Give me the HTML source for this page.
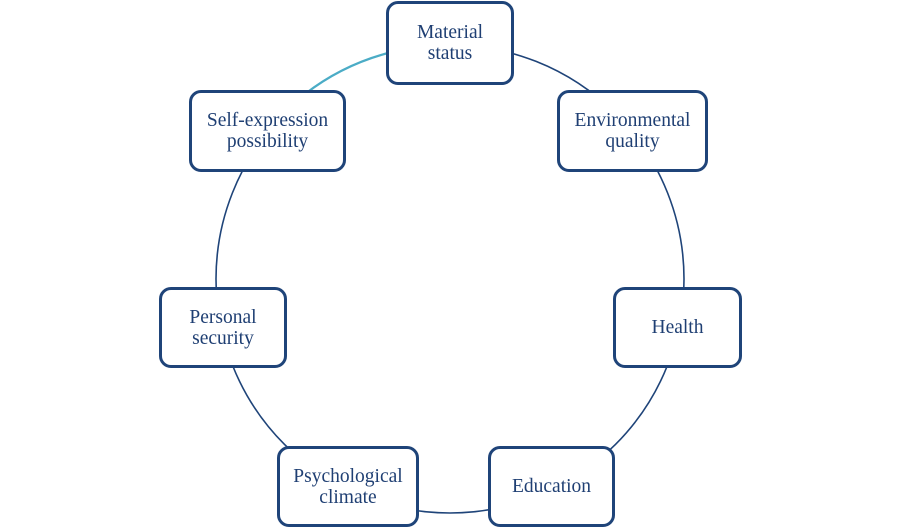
<!DOCTYPE html>
<html><head><meta charset="utf-8"><style>
html,body{margin:0;padding:0;background:#fff;}
.b{position:absolute;box-sizing:border-box;border:3.5px solid #1f4479;border-radius:12px;background:#fff;display:flex;align-items:center;justify-content:center;text-align:center;font-family:"Liberation Serif",serif;font-size:19.5px;line-height:21px;color:#1f3f73;}
</style></head><body>
<div style="position:relative;width:902px;height:529px;overflow:hidden;">
<svg width="902" height="529" style="position:absolute;left:0;top:0">
<circle cx="450" cy="279" r="234" fill="none" stroke="#1f4479" stroke-width="1.6"/>
<path d="M 392 52 A 234 234 0 0 0 305 94" fill="none" stroke="#fff" stroke-width="5"/>
<path d="M 392 52 A 234 234 0 0 0 305 94" fill="none" stroke="#4bacc6" stroke-width="2.2"/>
</svg>
<div class="b" style="left:386px;top:1px;width:128px;height:84px;">Material<br>status</div>
<div class="b" style="left:557px;top:90px;width:151px;height:82px;">Environmental<br>quality</div>
<div class="b" style="left:613px;top:287px;width:129px;height:81px;">Health</div>
<div class="b" style="left:488px;top:446px;width:127px;height:81px;">Education</div>
<div class="b" style="left:277px;top:446px;width:142px;height:81px;">Psychological<br>climate</div>
<div class="b" style="left:159px;top:287px;width:128px;height:81px;">Personal<br>security</div>
<div class="b" style="left:189px;top:90px;width:157px;height:82px;">Self-expression<br>possibility</div>
</div>
</body></html>
